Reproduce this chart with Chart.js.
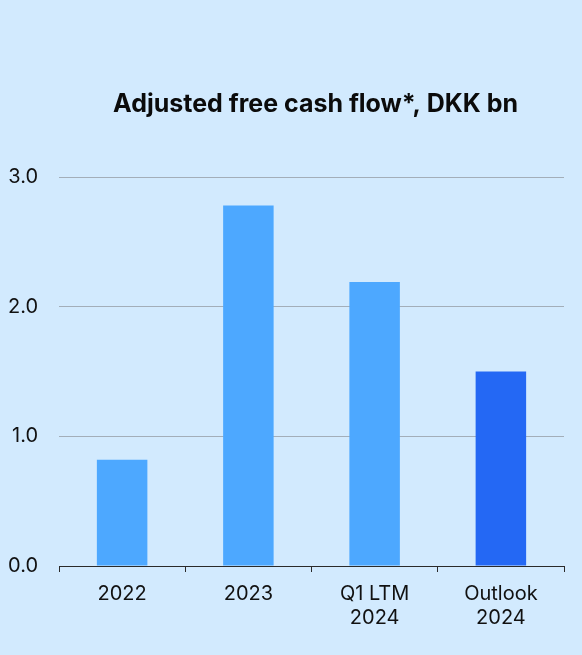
<!DOCTYPE html>
<html>
<head>
<meta charset="utf-8">
<script src="https://cdn.jsdelivr.net/npm/chart.js@4/dist/chart.umd.min.js"></script>
<style>
  html, body { margin: 0; padding: 0; background: #d2eafe; }
  #wrap { width: 582px; height: 655px; }
</style>
</head>
<body>
<div id="wrap"><canvas id="c" width="582" height="655"></canvas></div>
<script>
// Adjusted free cash flow, DKK bn
const categories = [["2022"], ["2023"], ["Q1 LTM", "2024"], ["Outlook", "2024"]];
const cashFlow = [0.82, 2.78, 2.19, 1.50];
const yTicks = [0, 1, 2, 3];
const titleText = "Adjusted free cash flow*, DKK bn";

const barColors = ["#4da8ff", "#4da8ff", "#4da8ff", "#2468f4"];
const FONT = "Inter, 'DejaVu Sans', sans-serif";

// Title drawn above the plot, centred over the chart area
const titlePlugin = {
  id: "plotTitle",
  afterDraw(chart) {
    const { ctx, chartArea } = chart;
    ctx.save();
    ctx.font = "bold 25px " + FONT;
    ctx.fillStyle = "#0b0b0b";
    ctx.textAlign = "center";
    ctx.textBaseline = "alphabetic";
    ctx.fillText(titleText, (chartArea.left + chartArea.right) / 2 + 4, 112);
    ctx.restore();
  }
};

new Chart(document.getElementById("c"), {
  type: "bar",
  data: {
    labels: categories,
    datasets: [{
      data: cashFlow,
      backgroundColor: barColors,
      borderWidth: 0,
      categoryPercentage: 1.0,
      barPercentage: 0.4
    }]
  },
  options: {
    responsive: false,
    animation: false,
    devicePixelRatio: 1,
    layout: { padding: { top: 177, left: 7, right: 18, bottom: 15 } },
    plugins: {
      legend: { display: false },
      tooltip: { enabled: false }
    },
    scales: {
      x: {
        border: { display: true, color: "#2a2a2a", width: 1 },
        grid: {
          offset: true,
          drawOnChartArea: false,
          drawTicks: true,
          tickLength: 6,
          color: "#2a2a2a"
        },
        ticks: {
          color: "#111",
          font: { family: FONT, size: 20, lineHeight: 1.2 },
          padding: 10,
          maxRotation: 0
        }
      },
      y: {
        min: 0,
        max: 3,
        afterBuildTicks(scale) {
          scale.ticks = yTicks.map(v => ({ value: v }));
        },
        afterFit(scale) {
          scale.width = 52;
        },
        border: { display: false },
        grid: {
          drawTicks: false,
          color: "#a3aeb9",
          lineWidth: 1
        },
        ticks: {
          color: "#111",
          font: { family: FONT, size: 20 },
          padding: 21,
          callback: v => Number(v).toFixed(1)
        }
      }
    }
  },
  plugins: [titlePlugin]
});
</script>
</body>
</html>
